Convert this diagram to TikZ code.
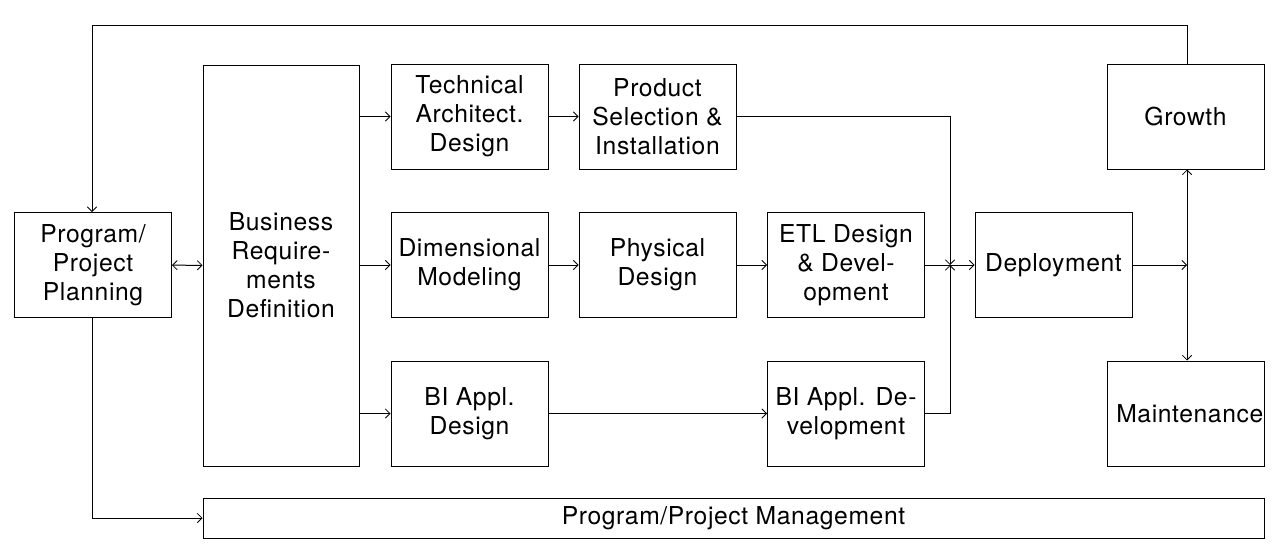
\documentclass[tikz,border=0pt]{standalone}
\usepackage{fontspec}
\setmainfont{TeX Gyre Heros}[LetterSpace=2.5]
\usetikzlibrary{arrows.meta}
\begin{document}
\begin{tikzpicture}[x=0.75pt,y=-0.75pt,
  every node/.style={font=\fontsize{18.5}{21.75}\selectfont},
  tip/.tip={Straight Barb[length=3.5pt,width=7pt,line width=0.6pt]},
  box/.style={draw,line width=0.75pt,minimum width=117.75pt,minimum height=78.75pt,inner sep=0pt,align=center},
  conn/.style={line width=0.75pt,-tip},
  line/.style={line width=0.75pt}]
\useasboundingbox (0,0) rectangle (1281,553);
\node[box] (ppp) at (93,265) {Program/\\Project\\Planning};
\node[box,minimum width=117pt,minimum height=300.75pt] (brd) at (281,265.5) {Business\\Require-\\ments\\Definition};
\node[box] (tad) at (469.5,116.5) {Technical\\Architect.\\Design};
\node[box] (psi) at (657.5,116.5) {Product\\Selection \&\\Installation};
\node[box] (dm) at (469.5,265) {Dimensional\\Modeling};
\node[box] (pd) at (657.5,265) {Physical\\Design};
\node[box] (etl) at (846,265) {ETL Design\\\& Devel-\\opment};
\node[box] (biad) at (469.5,413.5) {BI Appl.\\Design};
\node[box] (bidev) at (846,413.5) {BI Appl. De-\\velopment};
\node[box] (dep) at (1053.5,265) {Deployment};
\node[box] (gro) at (1185.5,116.5) {Growth};
\node[box] (mai) at (1185.5,413.5) {};
\node[anchor=west,inner sep=0pt] (maitext) at (1116,413.5) {Maintenance};
\node[box,minimum width=795.75pt,minimum height=30pt] (ppm) at (733.5,518) {Program/Project Management};
\coordinate (j) at (950,265);
\coordinate (k) at (1187,265);
\draw[conn] (brd.east |- tad.west) -- (tad.west);
\draw[conn] (brd.east |- dm.west) -- (dm.west);
\draw[conn] (brd.east |- biad.west) -- (biad.west);
\draw[conn] (tad) -- (psi);
\draw[conn] (dm) -- (pd);
\draw[conn] (pd) -- (etl);
\draw[conn] (biad) -- (bidev);
\draw[conn] (etl) -- (dep);
\draw[conn] (psi.east) -| (j);
\draw[conn] (bidev.east) -| (j);
\draw[conn] (dep.east) -- (k);
\draw[conn] (k) -- (gro.south -| k);
\draw[conn] (k) -- (mai.north -| k);
\draw[conn] (gro.north -| k) -- ++(0,-38) -| (ppp.north -| 92,0);
\draw[conn] (ppp.south -| 92,0) |- (ppm.west);
\draw[line width=0.75pt,tip-tip] (ppp) -- (brd);
\end{tikzpicture}
\end{document}
